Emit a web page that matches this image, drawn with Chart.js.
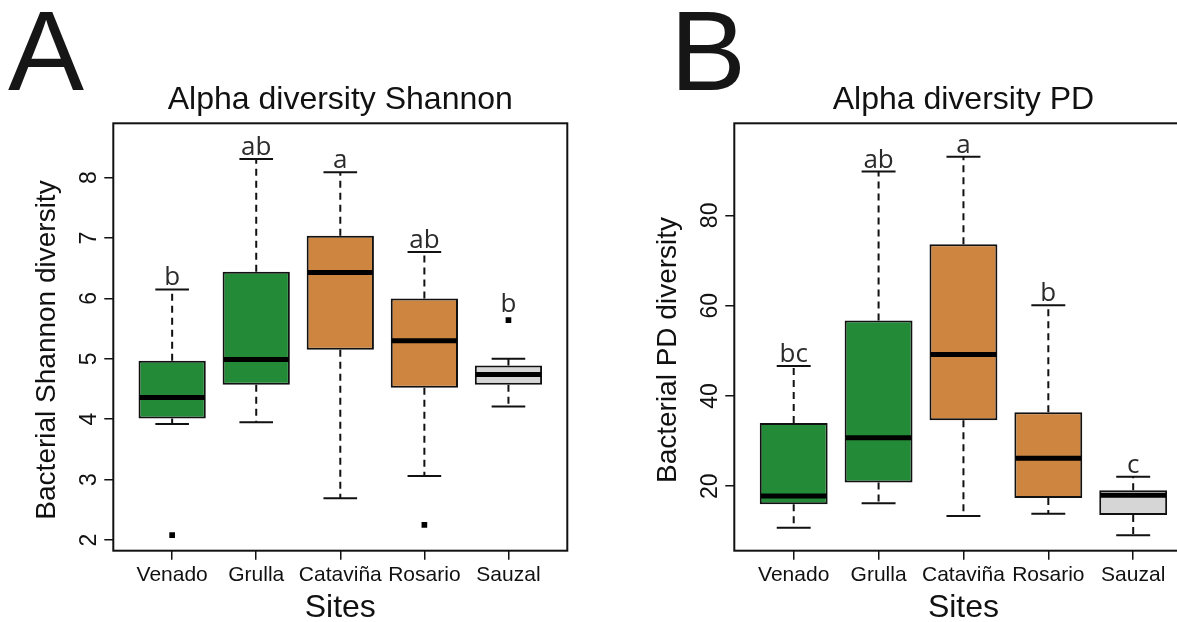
<!DOCTYPE html>
<html>
<head>
<meta charset="utf-8">
<script src="https://cdn.jsdelivr.net/npm/chart.js@4.4.1/dist/chart.umd.min.js"></script>
<style>
  html, body { margin: 0; padding: 0; background: #fff; overflow: hidden; }
  #wrap { position: relative; width: 1177px; height: 622px; overflow: hidden; }
  #shannonChart { position: absolute; left: 0; top: 0; }
  #pdChart { position: absolute; left: 590px; top: 0; }
</style>
</head>
<body>
<div id="wrap">
  <canvas id="shannonChart" width="590" height="622"></canvas>
  <canvas id="pdChart" width="620" height="622"></canvas>
</div>
<script>
// sites along the x axis
const sites = ["Venado", "Grulla", "Cataviña", "Rosario", "Sauzal"];
const boxFill = ["#238a37", "#238a37", "#cd853f", "#cd853f", "#d6d6d6"];

// Shannon diversity: whisker ends, quartiles, medians, outliers
const shannonLow = [3.92, 3.95, 2.69, 3.06, 4.21];
const shannonQ1 = [4.01, 4.57, 5.15, 4.52, 4.57];
const shannonMedian = [4.36, 4.99, 6.43, 5.30, 4.74];
const shannonQ3 = [4.97, 6.44, 7.04, 6.00, 4.89];
const shannonHigh = [6.15, 8.31, 8.09, 6.77, 5.00];
const shannonOutliers = [[2.08], [], [], [2.25], [5.64]];
const shannonLetters = ["b", "ab", "a", "ab", "b"];
const shannonTicks = [2, 3, 4, 5, 6, 7, 8];

// phylogenetic diversity (PD)
const pdLow = [10.8, 16.2, 13.4, 13.9, 9.1];
const pdQ1 = [16.0, 20.8, 34.6, 17.4, 13.6];
const pdMedian = [17.8, 30.7, 49.2, 26.2, 18.0];
const pdQ3 = [34.0, 56.7, 73.6, 36.4, 19.1];
const pdHigh = [46.6, 89.7, 93.0, 60.1, 22.1];
const pdOutliers = [[], [], [], [], []];
const pdLetters = ["bc", "ab", "a", "b", "c"];
const pdTicks = [20, 40, 60, 80];

const SANS = '"Liberation Sans", Arial, sans-serif';
Chart.defaults.font.family = SANS;
Chart.defaults.color = "#111";

// whiskers, medians, frame and all the annotation text
const boxDecor = {
  id: "boxDecor",
  afterDatasetsDraw(chart, args, o) {
    const { ctx, scales: { x, y } } = chart;
    ctx.save();
    ctx.strokeStyle = "#111";
    sites.forEach((s, i) => {
      const cx = x.getPixelForValue(i + 1);
      const half = x.getPixelForValue(i + 1.4) - cx;
      const cap = half / 2;
      const lo = y.getPixelForValue(o.low[i]);
      const q1 = y.getPixelForValue(o.q1[i]);
      const q3 = y.getPixelForValue(o.q3[i]);
      const hi = y.getPixelForValue(o.high[i]);
      ctx.lineWidth = 2;
      ctx.setLineDash([7, 5]);
      ctx.beginPath();
      ctx.moveTo(cx, q3); ctx.lineTo(cx, hi);
      ctx.moveTo(cx, q1); ctx.lineTo(cx, lo);
      ctx.stroke();
      ctx.setLineDash([]);
      ctx.beginPath();
      ctx.moveTo(cx - cap, hi); ctx.lineTo(cx + cap, hi);
      ctx.moveTo(cx - cap, lo); ctx.lineTo(cx + cap, lo);
      ctx.stroke();
      // median
      const m = y.getPixelForValue(o.median[i]);
      ctx.lineWidth = 5;
      ctx.strokeStyle = "#000";
      ctx.beginPath();
      ctx.moveTo(cx - half + 1, m); ctx.lineTo(cx + half - 1, m);
      ctx.stroke();
      ctx.strokeStyle = "#111";
    });
    ctx.restore();
  },
  afterDraw(chart, args, o) {
    const { ctx, chartArea: a, scales: { x, y } } = chart;
    const midX = (a.left + a.right) / 2;
    const midY = (a.top + a.bottom) / 2;
    ctx.save();

    // plot frame
    ctx.lineWidth = 2;
    ctx.strokeStyle = "#111";
    ctx.strokeRect(a.left, a.top, a.right - a.left, a.bottom - a.top);

    ctx.fillStyle = "#161616";
    ctx.textAlign = "left";
    ctx.textBaseline = "alphabetic";
    ctx.font = "114px " + SANS;
    ctx.fillText(o.panel, o.panelX, 90);

    ctx.fillStyle = "#111";
    ctx.textAlign = "center";
    ctx.font = "32px " + SANS;
    ctx.fillText(o.title, midX, a.top - 14);
    ctx.fillText("Sites", midX, a.bottom + 66);

    // y tick labels, parallel to the axis
    ctx.font = "23px " + SANS;
    y.ticks.forEach(t => {
      const py = y.getPixelForValue(t.value);
      ctx.save();
      ctx.translate(a.left - 25 + 8, py);
      ctx.rotate(-Math.PI / 2);
      ctx.fillText(String(t.value), 0, 0);
      ctx.restore();
    });

    ctx.font = "28px " + SANS;
    ctx.save();
    ctx.translate(a.left - 58, midY + 13);
    ctx.rotate(-Math.PI / 2);
    ctx.fillText(o.yTitle, 0, 0);
    ctx.restore();

    // significance letters above each group
    ctx.font = '26px "Open Sans", sans-serif';
    ctx.fillStyle = "#2b2b2b";
    sites.forEach((s, i) => {
      let top = y.getPixelForValue(o.high[i]);
      o.outliers[i].forEach(v => { top = Math.min(top, y.getPixelForValue(v) - 4); });
      ctx.fillText(o.letters[i], x.getPixelForValue(i + 1), top - 4);
    });
    ctx.restore();
  }
};

function makePanel(id, d) {
  const boxes = sites.map((s, i) => ({ x: i + 1, y: [d.q1[i], d.q3[i]] }));
  const points = [];
  d.outliers.forEach((list, i) => list.forEach(v => points.push({ x: i + 1, y: v })));

  new Chart(document.getElementById(id).getContext("2d"), {
    type: "bar",
    data: {
      datasets: [{
        data: boxes,
        backgroundColor: boxFill,
        borderColor: "#111",
        borderWidth: 2,
        borderSkipped: false,
        categoryPercentage: 0.8,
        barPercentage: 1
      }, {
        type: "scatter",
        data: points,
        pointStyle: "rect",
        pointRadius: 4,
        borderWidth: 0,
        backgroundColor: "#000"
      }]
    },
    options: {
      responsive: false,
      animation: false,
      devicePixelRatio: 1,
      layout: { padding: d.padding },
      plugins: {
        legend: { display: false },
        tooltip: { enabled: false },
        boxDecor: d
      },
      scales: {
        x: {
          type: "linear",
          min: 0.3,
          max: 5.7,
          offset: false,
          afterBuildTicks: axis => { axis.ticks = sites.map((s, i) => ({ value: i + 1 })); },
          afterFit: axis => { axis.height = 40; },
          border: { display: false },
          grid: { offset: false, drawOnChartArea: false, drawTicks: true, tickLength: 9, color: "#111", lineWidth: 1.5 },
          ticks: {
            autoSkip: false,
            maxRotation: 0,
            padding: 3,
            font: { size: 21 },
            color: "#111",
            callback: v => sites[v - 1]
          }
        },
        y: {
          type: "linear",
          min: d.yMin,
          max: d.yMax,
          beginAtZero: false,
          afterBuildTicks: axis => { axis.ticks = d.ticks.map(v => ({ value: v })); },
          afterFit: axis => { axis.width = 30; },
          border: { display: false },
          grid: { drawOnChartArea: false, drawTicks: true, tickLength: 9, color: "#111", lineWidth: 1.5 },
          ticks: { display: false }
        }
      }
    },
    plugins: [boxDecor]
  });
}

makePanel("shannonChart", {
  panel: "A", panelX: 8,
  title: "Alpha diversity Shannon",
  yTitle: "Bacterial Shannon diversity",
  low: shannonLow, q1: shannonQ1, median: shannonMedian, q3: shannonQ3, high: shannonHigh,
  outliers: shannonOutliers, letters: shannonLetters, ticks: shannonTicks,
  yMin: 1.823, yMax: 8.9,
  padding: { left: 83.3, top: 123.3, right: 22.7, bottom: 31.3 }
});

makePanel("pdChart", {
  panel: "B", panelX: 80,
  title: "Alpha diversity PD",
  yTitle: "Bacterial PD diversity",
  low: pdLow, q1: pdQ1, median: pdMedian, q3: pdQ3, high: pdHigh,
  outliers: pdOutliers, letters: pdLetters, ticks: pdTicks,
  yMin: 5.7, yMax: 100.4,
  padding: { left: 114.3, top: 123.3, right: 17.4, bottom: 31.3 }
});
</script>
</body>
</html>
